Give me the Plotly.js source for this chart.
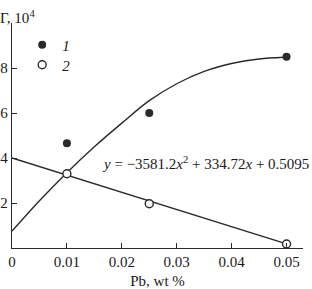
<!DOCTYPE html>
<html><head><meta charset="utf-8">
<script src="https://cdn.plot.ly/plotly-3.0.1.min.js"></script>
<style>body{margin:0;padding:0;background:#fff}#c{width:312px;height:289px}</style>
</head><body><div id="c"></div>
<script>
const pbX = [0.01, 0.025, 0.05];
const series1 = [4.65, 6.0, 8.5];
const series2 = [3.3, 1.97, 0.18];
const fitX = [0, 0.005, 0.01, 0.015, 0.02, 0.025, 0.03, 0.035, 0.04, 0.045, 0.0495];
const fit1 = [0.75, 2.1, 3.35, 4.5, 5.55, 6.55, 7.3, 7.85, 8.2, 8.4, 8.48];
const lineX = [0, 0.05];
const line2 = [4.0, 0.18];
const xTicks = [0, 0.01, 0.02, 0.03, 0.04, 0.05];
const xTickText = ["0", "0.01", "0.02", "0.03", "0.04", "0.05"];
const yTicks = [2, 4, 6, 8];
const yTickText = ["2", "4", "6", "8"];

const ink = '#2a2a2a';
const font = {family: '"Liberation Serif", "DejaVu Serif", serif', size: 15, color: '#1a1a1a'};

const traces = [
  {x: fitX, y: fit1, mode: 'lines', line: {color: ink, width: 1.4, shape: 'spline'}, showlegend: false, hoverinfo: 'skip'},
  {x: lineX, y: line2, mode: 'lines', line: {color: ink, width: 1.4}, showlegend: false, hoverinfo: 'skip'},
  {x: pbX, y: series1, mode: 'markers', name: '<i>1</i>', legend: 'legend', marker: {symbol: 'circle', size: 8, color: ink}},
  {x: pbX, y: series2, mode: 'markers', name: '<i>2</i>', legend: 'legend2', marker: {symbol: 'circle', size: 8, color: '#fff', line: {color: ink, width: 1.4}}}
];

const legendBase = {xanchor: 'left', yanchor: 'middle', bgcolor: 'rgba(0,0,0,0)', font: font, borderwidth: 0};
const layout = {
  width: 312, height: 289,
  margin: {l: 12, r: 9, t: 23, b: 41},
  paper_bgcolor: '#fff', plot_bgcolor: '#fff',
  font: font,
  showlegend: true,
  legend: Object.assign({x: 0.035, y: (248 - 45) / 225}, legendBase),
  legend2: Object.assign({x: 0.035, y: (248 - 65) / 225}, legendBase),
  xaxis: {
    range: [0, 0.053], showgrid: false, zeroline: false,
    showline: true, linecolor: ink, linewidth: 1.2,
    ticks: 'inside', ticklen: 5, tickcolor: ink, tickwidth: 1,
    tickvals: xTicks, ticktext: xTickText, tickfont: font,
    title: {text: 'Pb, wt %', font: font, standoff: 6}
  },
  yaxis: {
    range: [0, 10], showgrid: false, zeroline: false,
    showline: true, linecolor: ink, linewidth: 1.2,
    ticks: 'inside', ticklen: 5, tickcolor: ink, tickwidth: 1,
    tickvals: yTicks, ticktext: yTickText, tickfont: font
  },
  annotations: [
    {xref: 'paper', yref: 'paper', x: -0.041, y: 1.0, xanchor: 'left', yanchor: 'bottom', xshift: -2, yshift: -5,
     text: 'Γ, 10<sup>4</sup>', showarrow: false, font: font},
    {xref: 'paper', yref: 'y', x: 1.028, y: 3.8, xanchor: 'right', yanchor: 'middle',
     text: '<i>y</i> = −3581.2<i>x</i><sup>2</sup> + 334.72<i>x</i> + 0.5095', showarrow: false,
     font: Object.assign({}, font, {size: 15})}
  ]
};
Plotly.newPlot('c', traces, layout, {displayModeBar: false, staticPlot: true});
</script>
</body></html>
